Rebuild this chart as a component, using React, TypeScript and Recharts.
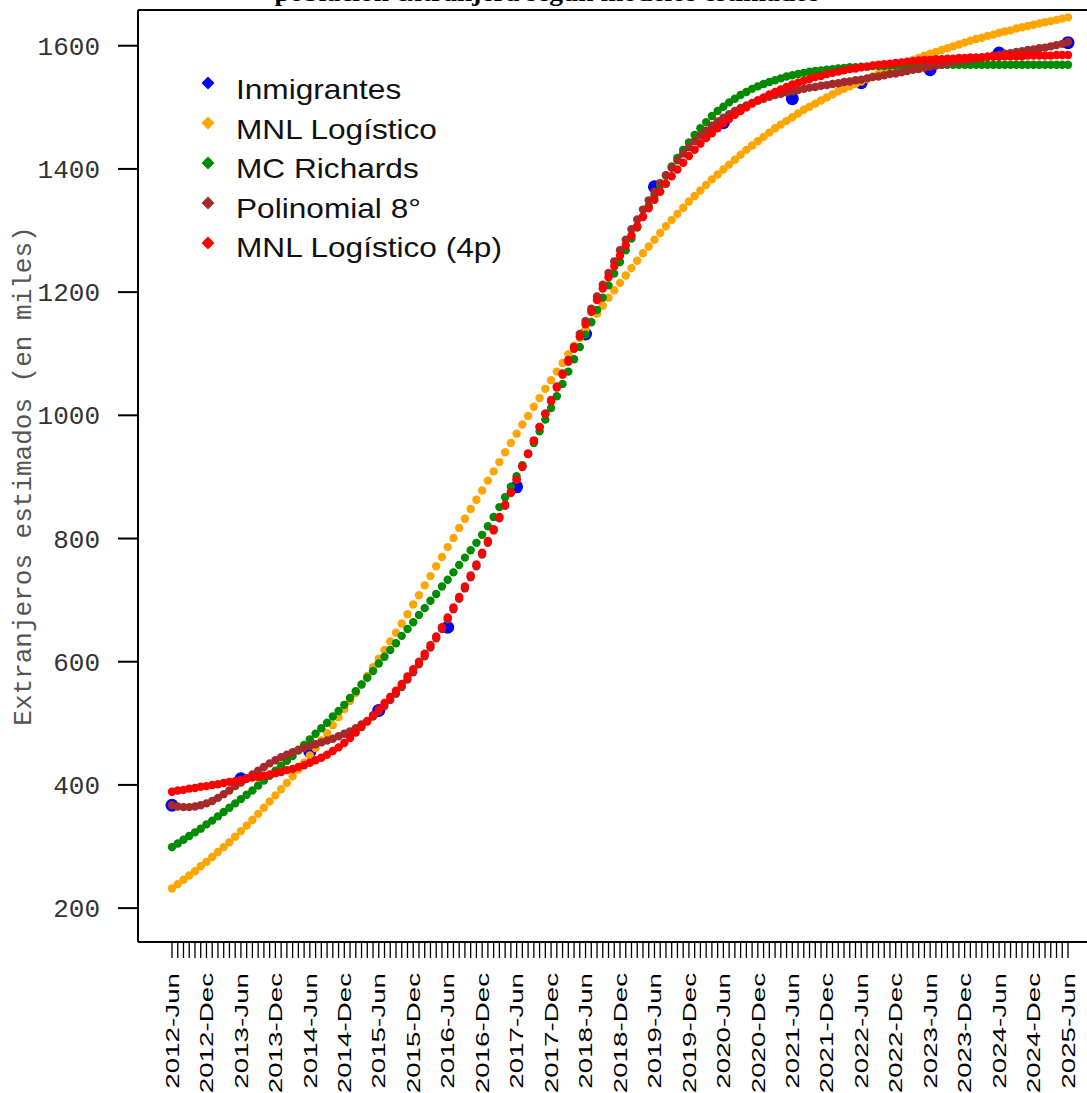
import React from 'react';
import { ComposedChart, Scatter, XAxis, YAxis, ReferenceLine } from 'recharts';

const xTickLabels = [
  '2012-Jun', '2012-Dec', '2013-Jun', '2013-Dec', '2014-Jun', '2014-Dec', '2015-Jun', '2015-Dec',
  '2016-Jun', '2016-Dec', '2017-Jun', '2017-Dec', '2018-Jun', '2018-Dec', '2019-Jun', '2019-Dec',
  '2020-Jun', '2020-Dec', '2021-Jun', '2021-Dec', '2022-Jun', '2022-Dec', '2023-Jun', '2023-Dec',
  '2024-Jun', '2024-Dec', '2025-Jun',
];
const yTicks = [200, 400, 600, 800, 1000, 1200, 1400, 1600];
const seriesNames = ['Inmigrantes', 'MNL Logístico', 'MC Richards', 'Polinomial 8°', 'MNL Logístico (4p)'];
const seriesColors = ['#0000FF', '#FFA500', '#008B00', '#A52A2A', '#FF0000'];

// observed, one per June (every 12 months)
const inmigrantes = [367, 410, 454, 521, 656, 884, 1132, 1371, 1475, 1514, 1540, 1561, 1588, 1605];

// monthly fitted values, 2012-Jun .. 2025-Jun
const mnlLogistico = [
  232, 239, 246, 253, 260, 268, 275, 283, 291, 299,
  307, 316, 325, 334, 343, 353, 363, 373, 383, 393,
  403, 414, 425, 436, 448, 460, 472, 484, 497, 510,
  523, 536, 549, 563, 577, 591, 605, 619, 633, 647,
  662, 677, 693, 708, 724, 739, 755, 770, 786, 801,
  817, 832, 848, 863, 878, 894, 909, 924, 940, 955,
  970, 985, 999, 1014, 1028, 1043, 1057, 1071, 1085, 1099,
  1113, 1126, 1139, 1152, 1165, 1178, 1191, 1203, 1215, 1227,
  1239, 1251, 1263, 1274, 1285, 1296, 1307, 1317, 1327, 1337,
  1347, 1356, 1365, 1374, 1383, 1391, 1399, 1407, 1415, 1423,
  1431, 1438, 1445, 1452, 1459, 1466, 1472, 1478, 1484, 1490,
  1496, 1501, 1506, 1511, 1516, 1521, 1526, 1530, 1534, 1538,
  1542, 1546, 1550, 1554, 1558, 1562, 1566, 1569, 1573, 1577,
  1580, 1584, 1587, 1590, 1593, 1596, 1599, 1602, 1605, 1608,
  1611, 1613, 1616, 1618, 1621, 1623, 1625, 1628, 1630, 1632,
  1634, 1636, 1638, 1640, 1642, 1644, 1646,
];

const mcRichards = [
  299, 305, 311, 317, 323, 329, 336, 342, 349, 356,
  363, 370, 377, 384, 391, 399, 407, 415, 423, 431,
  439, 447, 456, 465, 474, 483, 492, 501, 511, 520,
  530, 541, 552, 563, 574, 585, 597, 608, 619, 630,
  642, 653, 664, 676, 687, 699, 710, 722, 733, 745,
  757, 769, 781, 793, 806, 820, 835, 851, 867, 884,
  901, 919, 937, 955, 974, 993, 1012, 1031, 1051, 1071,
  1091, 1111, 1131, 1151, 1171, 1191, 1211, 1230, 1249, 1268,
  1287, 1305, 1323, 1340, 1357, 1373, 1389, 1404, 1418, 1431,
  1443, 1455, 1466, 1476, 1486, 1494, 1501, 1508, 1514, 1520,
  1525, 1530, 1534, 1538, 1541, 1544, 1547, 1550, 1552, 1554,
  1556, 1558, 1559, 1560, 1561, 1562, 1563, 1564, 1565, 1565,
  1566, 1566, 1567, 1567, 1567, 1568, 1568, 1568, 1569, 1569,
  1569, 1569, 1569, 1569, 1569, 1569, 1569, 1569, 1569, 1569,
  1569, 1569, 1569, 1569, 1569, 1569, 1569, 1569, 1569, 1569,
  1569, 1569, 1569, 1569, 1569, 1569, 1569,
];

const polinomial8 = [
  367, 365, 364, 364, 365, 367, 370, 374, 379, 385,
  391, 398, 404, 411, 417, 423, 429, 435, 440, 445,
  449, 453, 457, 460, 463, 466, 469, 472, 475, 479,
  483, 487, 492, 498, 504, 511, 519, 528, 538, 548,
  559, 571, 583, 596, 609, 623, 638, 653, 669, 685,
  702, 719, 737, 755, 774, 793, 813, 833, 853, 874,
  895, 916, 937, 959, 981, 1003, 1025, 1047, 1068, 1090,
  1111, 1132, 1153, 1173, 1193, 1212, 1231, 1250, 1268, 1285,
  1302, 1318, 1334, 1349, 1363, 1377, 1390, 1402, 1414, 1425,
  1435, 1445, 1454, 1462, 1470, 1477, 1483, 1489, 1494, 1499,
  1503, 1507, 1511, 1514, 1517, 1520, 1522, 1524, 1526, 1528,
  1530, 1532, 1533, 1535, 1536, 1538, 1539, 1541, 1542, 1544,
  1545, 1547, 1549, 1550, 1552, 1554, 1555, 1557, 1559, 1561,
  1562, 1564, 1566, 1568, 1569, 1571, 1573, 1575, 1576, 1578,
  1579, 1581, 1582, 1584, 1585, 1587, 1588, 1590, 1591, 1593,
  1594, 1596, 1597, 1599, 1601, 1603, 1606,
];

const mnlLogistico4p = [
  389, 391, 392, 394, 395, 397, 398, 400, 401, 403,
  405, 406, 408, 410, 412, 413, 415, 417, 419, 421,
  424, 426, 429, 432, 436, 440, 444, 449, 455, 461,
  468, 476, 485, 494, 503, 513, 523, 533, 543, 553,
  564, 576, 588, 600, 613, 627, 641, 656, 672, 688,
  705, 722, 740, 758, 777, 796, 815, 835, 855, 875,
  896, 917, 938, 959, 981, 1002, 1023, 1045, 1066, 1087,
  1108, 1128, 1148, 1168, 1187, 1206, 1224, 1242, 1259, 1276,
  1292, 1307, 1322, 1336, 1350, 1363, 1376, 1388, 1399, 1410,
  1421, 1431, 1441, 1450, 1458, 1466, 1474, 1481, 1488, 1494,
  1500, 1506, 1511, 1516, 1521, 1525, 1529, 1533, 1537, 1540,
  1543, 1546, 1549, 1551, 1554, 1556, 1558, 1560, 1562, 1563,
  1565, 1566, 1568, 1569, 1570, 1571, 1572, 1573, 1574, 1575,
  1576, 1577, 1577, 1578, 1578, 1579, 1579, 1580, 1580, 1581,
  1581, 1581, 1582, 1582, 1582, 1583, 1583, 1583, 1583, 1584,
  1584, 1584, 1584, 1584, 1585, 1585, 1585,
];

const monthIdx = mnlLogistico.map((_, i) => i);
const toPts = (arr: number[]) => arr.map((v, i) => ({ i, v }));
const blueData = inmigrantes.map((v, k) => ({ i: k * 12, v }));

const PLOT_TOP = 10;
const PLOT_BOTTOM = 942;
const Y_MIN = 145;
const Y_MAX = 1658;

const dotShape = (r: number, color: string) => (props: any) => {
  if (props.cx == null || props.cy == null) return <g />;
  return <circle cx={props.cx} cy={props.cy} r={r} fill={color} stroke="none" />;
};

const XTick = (props: any) => {
  const { x, y, payload } = props;
  const i = payload.value as number;
  const showLabel = i % 6 === 0;
  return (
    <g>
      <line x1={x} x2={x} y1={y} y2={y + 16} stroke="#000" strokeWidth={1.3} />
      {showLabel && (
        <text
          transform={`translate(${x},${y + 31}) rotate(-90) scale(1.5,1)`}
          textAnchor="end"
          dy="0.36em"
          fontFamily="'Liberation Sans', Arial, sans-serif"
          fontSize={18.5}
          fill="#000"
        >
          {xTickLabels[i / 6]}
        </text>
      )}
    </g>
  );
};

const YTick = (props: any) => {
  const { y, payload } = props;
  return (
    <text
      x={100}
      y={y}
      dy="0.35em"
      textAnchor="end"
      fontFamily="'Liberation Mono', 'DejaVu Sans Mono', monospace"
      fontSize={26}
      fill="#333"
    >
      {payload.value}
    </text>
  );
};

export default function App() {
  return (
    <div
      style={{
        position: 'fixed',
        left: 0,
        top: 0,
        width: 1087,
        height: 1093,
        overflow: 'hidden',
        background: '#fff',
      }}
    >
      <ComposedChart
        width={1110}
        height={1093}
        margin={{ top: PLOT_TOP, right: 8, left: 0, bottom: 0 }}
      >
        <XAxis
          type="number"
          dataKey="i"
          domain={[-5.92, 161.92]}
          allowDataOverflow
          ticks={monthIdx}
          interval={0}
          tickSize={0}
          tickMargin={0}
          tickLine={false}
          tick={<XTick />}
          height={1093 - PLOT_BOTTOM}
          axisLine={{ stroke: '#000', strokeWidth: 2 }}
        />
        <YAxis
          type="number"
          dataKey="v"
          domain={[Y_MIN, Y_MAX]}
          allowDataOverflow
          ticks={yTicks}
          interval={0}
          width={138}
          tickSize={20}
          tickMargin={18}
          tickLine={{ stroke: '#000', strokeWidth: 2 }}
          axisLine={{ stroke: '#000', strokeWidth: 2 }}
          tick={<YTick />}
        />
        <ReferenceLine y={Y_MAX} stroke="#000" strokeWidth={2} ifOverflow="extendDomain" />
        <Scatter data={blueData} shape={dotShape(6.5, seriesColors[0])} isAnimationActive={false} />
        <Scatter data={toPts(mnlLogistico)} shape={dotShape(4.2, seriesColors[1])} isAnimationActive={false} />
        <Scatter data={toPts(mcRichards)} shape={dotShape(4.2, seriesColors[2])} isAnimationActive={false} />
        <Scatter data={toPts(polinomial8)} shape={dotShape(4.2, seriesColors[3])} isAnimationActive={false} />
        <Scatter data={toPts(mnlLogistico4p)} shape={dotShape(4.2, seriesColors[4])} isAnimationActive={false} />
      </ComposedChart>
      <svg
        width={1087}
        height={1093}
        style={{ position: 'absolute', left: 0, top: 0, pointerEvents: 'none' }}
      >
        <text
          x={547}
          y={1}
          textAnchor="middle"
          fontFamily="'Liberation Serif', 'Times New Roman', serif"
          fontWeight="bold"
          fontSize={26}
          textLength={545}
          lengthAdjust="spacingAndGlyphs"
          fill="#000"
        >
          población extranjera según modelos estimados
        </text>
        <text
          transform="translate(22,476) rotate(-90)"
          textAnchor="middle"
          dy="0.35em"
          fontFamily="'Liberation Mono', 'DejaVu Sans Mono', monospace"
          fontSize={26}
          fill="#555"
        >
          Extranjeros estimados (en miles)
        </text>
        {seriesNames.map((name, k) => {
          const cy = 83 + k * 40;
          const by = 99 + k * 39.6;
          return (
            <g key={name}>
              <polygon
                points={`208,${cy - 6.5} 214.5,${cy} 208,${cy + 6.5} 201.5,${cy}`}
                fill={seriesColors[k]}
              />
              <text
                transform={`translate(236,${by}) scale(1.13,1)`}
                fontFamily="'Liberation Sans', Arial, sans-serif"
                fontSize={28}
                fill="#111"
              >
                {name}
              </text>
            </g>
          );
        })}
      </svg>
    </div>
  );
}
